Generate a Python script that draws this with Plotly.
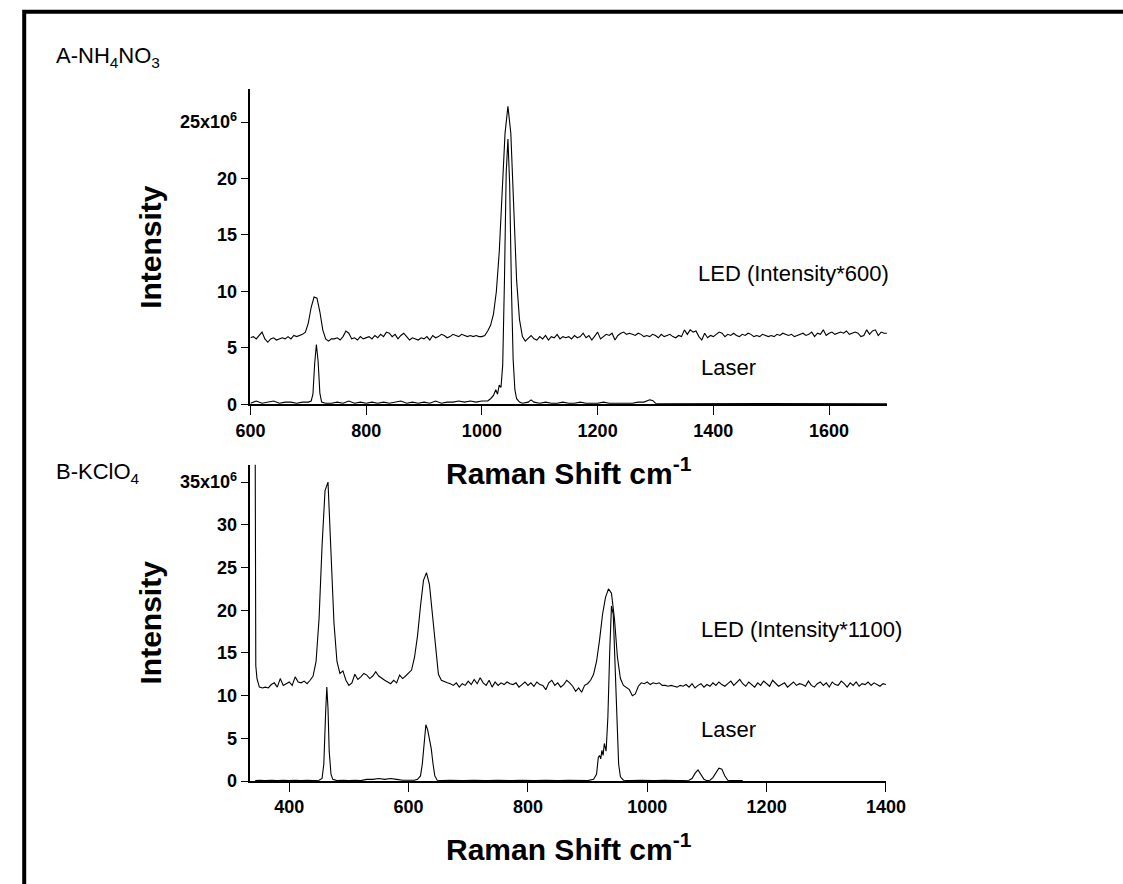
import plotly.graph_objects as go

# ---------------- DATA (intensity in units of 1e6) ----------------
# Panel A: NH4NO3, LED spectrum sampled every 5 cm-1 from 600 to 1700
a_led_x = list(range(600, 1701, 5))
a_led_y = [
    5.9, 6.0, 5.8, 6.1, 6.4, 5.8, 5.5, 5.8, 5.9, 5.7, 5.8, 5.9, 5.8, 6.0, 5.8, 6.1, 6.0, 6.1, 6.2, 6.4,
    7.2, 8.6, 9.5, 9.4, 8.2, 6.6, 5.8, 5.6, 5.8, 5.8, 5.9, 5.7, 6.0, 6.5, 6.3, 5.8, 5.9, 5.7, 6.0, 5.8,
    5.9, 6.0, 5.8, 6.1, 5.9, 6.2, 6.0, 6.4, 6.3, 6.0, 6.2, 5.8, 6.1, 6.3, 6.0, 5.7, 5.9, 5.8, 5.7, 5.9,
    5.8, 6.0, 5.7, 6.1, 5.9, 6.0, 6.2, 6.1, 5.9, 6.0, 6.2, 6.1, 6.0, 6.2, 6.1, 6.0, 6.1, 6.0, 6.1, 6.0,
    6.0, 6.1, 6.5, 7.0, 8.0, 10.0, 13.5, 18.5, 24.0, 26.4, 24.0, 17.5, 11.0, 7.5, 6.0, 5.6, 5.9, 6.1, 5.8, 5.7,
    6.0, 5.8, 6.1, 5.7, 6.0, 5.9, 6.2, 5.8, 6.0, 5.9, 6.0, 5.8, 6.1, 5.9, 6.0, 6.3, 5.9, 6.1, 5.7, 6.0,
    6.4, 5.8, 6.0, 6.2, 6.1, 6.3, 5.7, 6.1, 6.3, 6.4, 6.2, 6.3, 6.2, 6.1, 6.3, 6.2, 6.0, 6.1, 6.0, 6.2,
    6.1, 5.9, 6.2, 6.0, 6.1, 6.2, 6.0, 5.9, 6.1, 6.0, 6.6, 6.2, 6.6, 6.4, 6.5, 6.0, 5.7, 6.3, 5.9, 6.1,
    6.0, 6.2, 6.4, 6.3, 6.0, 6.2, 6.1, 6.3, 6.1, 6.0, 6.2, 6.1, 6.3, 6.2, 6.0, 6.1, 6.0, 6.2, 6.1, 6.0,
    6.1, 6.0, 6.2, 6.1, 6.3, 6.2, 6.1, 6.2, 6.0, 6.1, 6.2, 6.3, 6.1, 6.2, 6.4, 6.0, 6.3, 6.2, 6.6, 6.1,
    6.3, 6.4, 6.2, 6.3, 6.4, 6.3, 6.5, 6.2, 6.3, 6.4, 6.3, 6.0, 6.1, 6.6, 6.2, 6.5, 6.6, 6.1, 6.4, 6.3,
    6.3,
]

# Panel A: laser spectrum
a_laser_x = [
    600, 610, 620, 630, 640, 650, 660, 670, 680, 690, 700, 705, 708, 711, 714, 717, 720, 723, 730, 740,
    750, 760, 770, 780, 790, 800, 810, 820, 830, 840, 850, 860, 870, 880, 890, 900, 910, 920, 930, 940,
    950, 960, 970, 980, 990, 1000, 1010, 1015, 1020, 1024, 1027, 1030, 1033, 1036, 1039, 1042, 1045, 1048, 1051, 1054,
    1057, 1060, 1065, 1070, 1080, 1085, 1090, 1100, 1110, 1120, 1130, 1140, 1150, 1160, 1170, 1180, 1190, 1200, 1210, 1220,
    1230, 1240, 1250, 1260, 1270, 1280, 1290, 1295, 1300, 1310, 1320, 1330, 1340, 1350, 1360, 1370, 1380, 1390, 1400, 1420,
    1440, 1460, 1480, 1500, 1520, 1540, 1560, 1580, 1600, 1620, 1640, 1660, 1680, 1700,
]
a_laser_y = [
    0.1, 0.3, 0.1, 0.2, 0.3, 0.1, 0.2, 0.2, 0.1, 0.2, 0.2, 0.3, 0.9, 3.6, 5.3, 3.8, 1.0, 0.2, 0.1, 0.1,
    0.2, 0.1, 0.3, 0.1, 0.2, 0.1, 0.2, 0.1, 0.2, 0.1, 0.2, 0.3, 0.1, 0.2, 0.1, 0.2, 0.1, 0.3, 0.1, 0.2,
    0.2, 0.3, 0.2, 0.3, 0.2, 0.3, 0.3, 0.5, 0.8, 1.3, 0.9, 1.7, 1.5, 3.5, 11.0, 20.5, 23.5, 19.5, 10.5, 4.0,
    1.3, 0.5, 0.2, 0.1, 0.2, 0.4, 0.2, 0.1, 0.2, 0.1, 0.1, 0.2, 0.1, 0.1, 0.2, 0.1, 0.1, 0.1, 0.2, 0.1,
    0.1, 0.1, 0.1, 0.1, 0.2, 0.2, 0.4, 0.35, 0.1, 0.1, 0.05, 0.1, 0.05, 0.05, 0.1, 0.05, 0.05, 0.05, 0.05, 0.05,
    0.05, 0.05, 0.05, 0.05, 0.05, 0.05, 0.05, 0.05, 0.05, 0.05, 0.05, 0.05, 0.05, 0.05,
]

# Panel B: KClO4, LED spectrum
b_led_x = [343, 343.5, 344, 346, 348, 350, 355] + list(range(360, 1401, 5))
b_led_y = [
    38.5, 23.5, 13.5, 12.0, 11.5, 11.0, 10.9,
    11.0, 10.9, 11.3, 11.5, 11.0, 12.0, 11.2, 11.4, 11.6, 11.2, 12.2, 11.6, 11.5, 11.7, 11.4, 11.8, 12.3, 14.0, 19.0, 27.5,
    34.0, 35.0, 27.0, 18.5, 14.0, 12.6, 12.9, 11.8, 11.2, 11.5, 12.5, 11.9, 12.2, 12.6, 12.4, 12.0, 12.3, 12.8, 12.3, 12.0,
    11.8, 11.6, 11.4, 11.8, 11.5, 12.4, 12.0, 12.3, 12.6, 13.0, 14.5, 17.0, 20.5, 23.5, 24.4, 23.0, 19.5, 15.5, 12.5, 11.8,
    11.6, 11.5, 11.4, 11.2, 11.5, 11.0, 11.4, 11.2, 11.7, 11.3, 11.9, 11.4, 12.1, 11.5, 11.2, 11.8, 11.0, 11.6, 11.2, 11.5,
    11.3, 11.6, 11.4, 11.3, 11.5, 11.0, 11.3, 11.6, 11.2, 11.5, 11.1, 11.6, 11.3, 11.2, 10.7, 11.5, 11.8, 11.2, 11.5, 11.0,
    11.3, 11.8, 11.5, 11.1, 10.5, 10.9, 10.4, 11.2, 11.4, 11.8, 12.5, 14.0, 16.5, 19.5, 21.5, 22.5, 22.0, 19.0, 14.5, 12.0,
    11.2, 10.9, 10.7, 10.0, 10.2, 11.1, 11.5, 11.4, 11.6, 11.3, 11.5, 11.4, 11.5, 11.2, 11.2, 11.1, 11.2, 11.1, 11.0, 11.2,
    11.1, 11.3, 11.0, 11.4, 10.9, 11.2, 11.4, 11.0, 11.3, 11.1, 11.5, 11.2, 11.6, 11.3, 11.1, 11.4, 11.7, 11.2, 11.5, 11.9,
    11.4, 11.1, 11.6, 11.3, 11.0, 11.5, 11.2, 11.7, 11.4, 11.1, 11.8, 11.5, 11.1, 11.3, 11.5, 11.0, 11.3, 11.6, 11.2, 11.4,
    11.3, 11.1, 11.7, 11.2, 11.0, 11.4, 11.6, 11.2, 11.5, 11.0, 11.6, 11.3, 11.2, 11.7, 11.4, 11.0, 11.5, 11.2, 11.6, 11.1,
    11.4, 11.3, 11.6, 11.2, 11.5, 11.3, 11.1, 11.4, 11.3,
]

# Panel B: laser spectrum
b_laser_x = [
    343, 350, 360, 370, 380, 390, 400, 410, 420, 430, 440, 450, 455, 458, 461, 463, 465, 467, 470, 473,
    480, 490, 500, 510, 520, 530, 540, 550, 560, 570, 580, 590, 600, 610, 615, 620, 623, 626, 629, 632,
    635, 638, 641, 644, 648, 655, 670, 690, 710, 730, 750, 770, 790, 810, 830, 850, 870, 890, 900, 910,
    915, 918, 920, 922, 924, 926, 928, 931, 934, 937, 940, 943, 946, 949, 952, 955, 960, 970, 990, 1010,
    1030, 1050, 1070, 1075, 1080, 1085, 1090, 1095, 1100, 1105, 1110, 1115, 1120, 1125, 1130, 1135, 1140, 1150, 1160,
]
b_laser_y = [
    0.05, 0.1, 0.05, 0.1, 0.05, 0.1, 0.05, 0.1, 0.05, 0.1, 0.05, 0.1, 0.3, 2.0, 8.0, 11.0, 8.5, 3.5, 0.8, 0.2,
    0.05, 0.1, 0.05, 0.1, 0.05, 0.2, 0.2, 0.3, 0.2, 0.3, 0.2, 0.1, 0.1, 0.1, 0.2, 0.6, 2.0, 4.5, 6.6, 6.0,
    5.0, 3.8, 2.0, 0.6, 0.1, 0.05, 0.1, 0.05, 0.1, 0.05, 0.1, 0.05, 0.1, 0.05, 0.1, 0.05, 0.1, 0.05, 0.05, 0.2,
    0.8, 2.8, 3.0, 2.6, 3.6, 3.0, 4.4, 3.5, 7.5, 15.0, 20.5, 19.5, 13.0, 6.0, 2.0, 0.5, 0.1, 0.05, 0.1, 0.05,
    0.1, 0.05, 0.1, 0.3, 0.9, 1.3, 0.8, 0.2, 0.05, 0.1, 0.4, 1.0, 1.5, 1.4, 0.6, 0.1, 0.05, 0.05, 0.05,
]

a_ytick_vals = [0, 5, 10, 15, 20, 25]
a_ytick_text = ["0", "5", "10", "15", "20", "25x10<sup>6</sup>"]
b_ytick_vals = [0, 5, 10, 15, 20, 25, 30, 35]
b_ytick_text = ["0", "5", "10", "15", "20", "25", "30", "35x10<sup>6</sup>"]
a_xtick_vals = [600, 800, 1000, 1200, 1400, 1600]
b_xtick_vals = [400, 600, 800, 1000, 1200, 1400]

# ---------------- LAYOUT HELPERS ----------------
W, H = 1123, 884
def px(x):
    return x / W
def py(y):
    return 1 - y / H

FONT = "Liberation Sans, Arial, sans-serif"
line = dict(color="black", width=1.1)

fig = go.Figure()
fig.add_trace(go.Scatter(x=a_led_x, y=a_led_y, mode="lines", line=line, xaxis="x", yaxis="y"))
fig.add_trace(go.Scatter(x=a_laser_x, y=a_laser_y, mode="lines", line=line, xaxis="x", yaxis="y"))
fig.add_trace(go.Scatter(x=b_led_x, y=b_led_y, mode="lines", line=line, xaxis="x2", yaxis="y2"))
fig.add_trace(go.Scatter(x=b_laser_x, y=b_laser_y, mode="lines", line=line, xaxis="x2", yaxis="y2"))

tickfont = dict(family=FONT, size=18, color="black", weight="bold")
axis_common = dict(showline=True, linecolor="black", linewidth=1.5, ticks="outside",
                   tickcolor="black", tickwidth=1.2, showgrid=False, zeroline=False,
                   tickfont=tickfont, mirror=False)

fig.update_layout(
    width=W, height=H, autosize=False,
    margin=dict(l=0, r=0, t=0, b=0),
    paper_bgcolor="white", plot_bgcolor="white",
    showlegend=False,
    xaxis=dict(domain=[px(243), px(900)], range=[600, 1700], anchor="y",
               tickvals=a_xtick_vals, ticklen=9, **axis_common),
    yaxis=dict(domain=[py(409), py(90)], range=[0, 27.93], anchor="x",
               tickvals=a_ytick_vals, ticktext=a_ytick_text, ticklen=8, **axis_common),
    xaxis2=dict(domain=[px(243), px(899)], range=[335, 1400], anchor="y2",
                tickvals=b_xtick_vals, ticklen=9, **axis_common),
    yaxis2=dict(domain=[py(790), py(470)], range=[0, 37.04], anchor="x2",
                tickvals=b_ytick_vals, ticktext=b_ytick_text, ticklen=8, **axis_common),
)

def note(text, x, y, size=22, bold=False, xanchor="left", angle=0):
    fig.add_annotation(text=text, x=px(x), y=py(y), xref="paper", yref="paper",
                       xanchor=xanchor, yanchor="middle", showarrow=False, textangle=angle,
                       font=dict(family=FONT, size=size, color="black",
                                 weight="bold" if bold else "normal"))

note("A-NH<sub>4</sub>NO<sub>3</sub>", 40, 58)
note("B-KClO<sub>4</sub>", 40, 478)
note("LED (Intensity*600)", 703, 277)
note("Laser", 706, 372)
note("LED (Intensity*1100)", 706, 637)
note("Laser", 706, 738)
note("Intensity", 140, 250, size=30, bold=True, xanchor="center", angle=-90)
note("Intensity", 140, 630, size=30, bold=True, xanchor="center", angle=-90)
note("Raman Shift cm<sup>-1</sup>", 572, 476, size=30, bold=True, xanchor="center")
note("Raman Shift cm<sup>-1</sup>", 572, 857, size=30, bold=True, xanchor="center")

# outer frame (only top and left edges fall inside the page)
fig.add_shape(type="rect", xref="paper", yref="paper",
              x0=px(9.5), y0=py(12), x1=px(1600), y1=py(1300),
              line=dict(color="black", width=4))

fig.write_html("out.html",
               config={"displayModeBar": False},
               post_script="document.body.style.margin='0';document.body.style.overflow='hidden';")
